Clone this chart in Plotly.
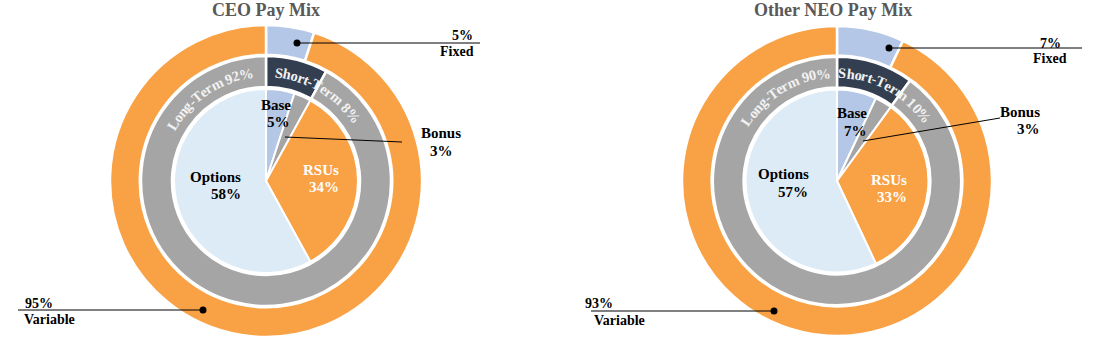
import math
import plotly.graph_objects as go

W, H = 1096, 348

# ---------------- data ----------------
outer_labels = ["Fixed", "Variable"]
middle_labels = ["Short-Term", "Long-Term"]
inner_labels = ["Base", "Bonus", "RSUs", "Options"]

ceo_outer = [5, 95]
ceo_middle = [8, 92]
ceo_inner = [5, 3, 34, 58]

neo_outer = [7, 93]
neo_middle = [10, 90]
neo_inner = [7, 3, 33, 57]

titles = ["CEO Pay Mix", "Other NEO Pay Mix"]

# ---------------- style ----------------
C_ORANGE = "#F9A145"
C_LBLUE = "#B4C7E7"
C_DARK = "#333F50"
C_GREY = "#A5A5A5"
C_PALE = "#DDEBF7"
FONT = "Liberation Serif"

outer_colors = [C_LBLUE, C_ORANGE]
middle_colors = [C_DARK, C_GREY]
inner_colors = [C_LBLUE, C_GREY, C_ORANGE, C_PALE]


def px(x, y):
    return x / W, 1 - y / H


def dom(cx, cy, r):
    return dict(x=[(cx - r) / W, (cx + r) / W], y=[1 - (cy + r) / H, 1 - (cy - r) / H])


fig = go.Figure()
annotations = []
shapes = []

# Times bold approximate advance widths (em)
CW = {"L": .667, "o": .5, "n": .556, "g": .5, "-": .333, "T": .667, "e": .444,
      "r": .444, "m": .833, " ": .25, "%": 1.0, "S": .556, "h": .556, "t": .333}


def curved(text, cx, cy, r, mid_deg, size, color):
    widths = [CW.get(c, .5) * size for c in text]
    total = sum(widths)
    start = math.radians(mid_deg) - (total / r) / 2
    s = 0
    for c, w in zip(text, widths):
        th = start + (s + w / 2) / r
        s += w
        if c == " ":
            continue
        x = cx + r * math.sin(th)
        y = cy - r * math.cos(th)
        X, Y = px(x, y)
        annotations.append(dict(x=X, y=Y, xref="paper", yref="paper", text="<b>%s</b>" % c,
                                showarrow=False, textangle=math.degrees(th),
                                xanchor="center", yanchor="middle",
                                font=dict(family=FONT, size=size, color=color)))


def label(text, x, y, size=15, color="black", xanchor="center"):
    X, Y = px(x, y)
    annotations.append(dict(x=X, y=Y, xref="paper", yref="paper", text="<b>%s</b>" % text,
                            showarrow=False, xanchor=xanchor, yanchor="middle",
                            font=dict(family=FONT, size=size, color=color)))


def line(x0, y0, x1, y1):
    X0, Y0 = px(x0, y0)
    X1, Y1 = px(x1, y1)
    shapes.append(dict(type="line", xref="paper", yref="paper", x0=X0, y0=Y0, x1=X1, y1=Y1,
                       line=dict(color="black", width=1)))


def dot(x, y, r=3.5):
    X0, Y0 = px(x - r, y + r)
    X1, Y1 = px(x + r, y - r)
    shapes.append(dict(type="circle", xref="paper", yref="paper", x0=X0, y0=Y0, x1=X1, y1=Y1,
                       fillcolor="black", line=dict(color="black", width=0)))


charts = [
    dict(cx=266, cy=181, R=156, outer=ceo_outer, middle=ceo_middle, inner=ceo_inner,
         title=titles[0], tx=266, lt_mid=-34, st_mid=31,
         base=(276, 105, 278, 122), rsu=(321, 170, 324, 187), opt=(215, 177, 226, 194),
         bonus=(441, 133, 441, 151), bline=(285, 137, 402, 142),
         fixed=(475, 36, 476, 51), fline=(297, 43, 480), var=(23, 303, 22, 319), vline=(18, 310, 203)),
    dict(cx=837, cy=181, R=155, outer=neo_outer, middle=neo_middle, inner=neo_inner,
         title=titles[1], tx=833, lt_mid=-31, st_mid=29,
         base=(852, 113, 855, 131), rsu=(889, 180, 892, 197), opt=(783, 174, 793, 192),
         bonus=(1020, 112, 1028, 129), bline=(863, 141, 1000, 118),
         fixed=(1063, 43, 1069, 59), fline=(889, 48, 1082), var=(583, 303, 592, 320), vline=(591, 311, 774)),
]

for ch in charts:
    cx, cy, R = ch["cx"], ch["cy"], ch["R"]
    k = R / 156.0
    r_mid = 125 * k
    r_in = 92 * k
    fig.add_trace(go.Pie(labels=outer_labels, values=ch["outer"], hole=127 / 157, sort=False,
                         direction="clockwise", rotation=0, domain=dom(cx, cy, R),
                         marker=dict(colors=outer_colors, line=dict(color="white", width=2.5)),
                         textinfo="none", hoverinfo="label+percent", showlegend=False))
    fig.add_trace(go.Pie(labels=middle_labels, values=ch["middle"], hole=94 / 125, sort=False,
                         direction="clockwise", rotation=0, domain=dom(cx, cy, r_mid),
                         marker=dict(colors=middle_colors, line=dict(color="white", width=2.5)),
                         textinfo="none", hoverinfo="label+percent", showlegend=False))
    fig.add_trace(go.Pie(labels=inner_labels, values=ch["inner"], sort=False,
                         direction="clockwise", rotation=0, domain=dom(cx, cy, r_in),
                         marker=dict(colors=inner_colors, line=dict(color="white", width=2)),
                         textinfo="none", hoverinfo="label+percent", showlegend=False))

    # title
    label(ch["title"], ch["tx"], 10, size=18, color="#595959")

    # middle ring curved labels
    r_txt = 109 * k
    curved("Long-Term %d%%" % ch["middle"][1], cx, cy, r_txt, ch["lt_mid"], 14.5, "#F2F2F2")
    curved("Short-Term %d%%" % ch["middle"][0], cx, cy, r_txt, ch["st_mid"], 14.5, "#F2F2F2")

    # inner labels
    b = ch["base"]
    label(inner_labels[0], b[0], b[1])
    label("%d%%" % ch["inner"][0], b[2], b[3])
    rr = ch["rsu"]
    label(inner_labels[2], rr[0], rr[1], color="white")
    label("%d%%" % ch["inner"][2], rr[2], rr[3], color="white")
    o = ch["opt"]
    label(inner_labels[3], o[0], o[1])
    label("%d%%" % ch["inner"][3], o[2], o[3])
    bo = ch["bonus"]
    label(inner_labels[1], bo[0], bo[1])
    label("%d%%" % ch["inner"][1], bo[2], bo[3])
    bl = ch["bline"]
    line(*bl)

    # outer labels
    f = ch["fixed"]
    label("%d%%" % ch["outer"][0], f[0], f[1], size=14, xanchor="right")
    label(outer_labels[0], f[2], f[3], size=14, xanchor="right")
    fl = ch["fline"]
    line(fl[0], fl[1], fl[2], fl[1])
    dot(fl[0], fl[1])
    v = ch["var"]
    label("%d%%" % ch["outer"][1], v[0], v[1], size=14, xanchor="left")
    label(outer_labels[1], v[2], v[3], size=14, xanchor="left")
    vl = ch["vline"]
    line(vl[0], vl[1], vl[2], vl[1])
    dot(vl[2], vl[1])

fig.update_layout(width=W, height=H, margin=dict(l=0, r=0, t=0, b=0),
                  paper_bgcolor="white", plot_bgcolor="white",
                  annotations=annotations, shapes=shapes, showlegend=False)

fig.write_html("out.html")
